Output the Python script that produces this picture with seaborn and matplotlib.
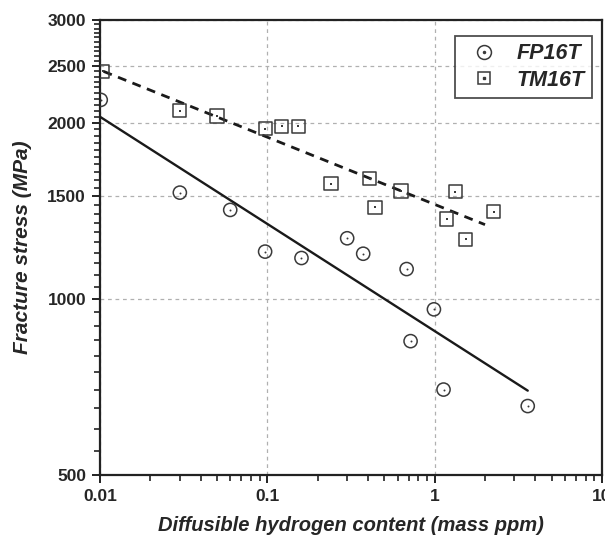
import numpy as np
import pandas as pd
import seaborn as sns
import matplotlib
matplotlib.use("Agg")
import matplotlib.pyplot as plt
from matplotlib.ticker import FixedLocator, NullFormatter, FuncFormatter
from matplotlib.lines import Line2D
from matplotlib.legend_handler import HandlerTuple

# ---- data ----
fp_x = [0.0101, 0.03, 0.06, 0.097, 0.16, 0.30, 0.374, 0.68, 0.718, 0.99, 1.13, 3.6]
fp_y = [2190, 1520, 1420, 1205, 1175, 1270, 1195, 1125, 847, 960, 700, 656]

tm_x = [0.0104, 0.03, 0.05, 0.097, 0.122, 0.153, 0.24, 0.41, 0.44, 0.63, 1.33, 1.18, 2.25, 1.53]
tm_y = [2450, 2100, 2055, 1955, 1975, 1975, 1575, 1605, 1435, 1530, 1525, 1370, 1410, 1265]

fp_fit_x = [0.01, 3.6]
fp_fit_y = [2049, 697]
tm_fit_x = [0.0105, 2.0]
tm_fit_y = [2450, 1340]

x_ticks = [0.01, 0.1, 1, 10]
x_tick_labels = ["0.01", "0.1", "1", "10"]
y_ticks = [500, 1000, 1500, 2000, 2500, 3000]
y_minor = [v for v in range(550, 3000, 50) if v not in y_ticks]

series_names = ["FP16T", "TM16T"]

sns.set_style("white")
plt.rcParams['font.family'] = ['Liberation Sans', 'DejaVu Sans']

fig = plt.figure(figsize=(6.05, 5.39), dpi=100)
ax = fig.add_axes([0.1653, 0.1187, 0.8297, 0.8443])
ax.set_xscale("log")
ax.set_yscale("log")

edge = "#3a3a3a"
fp_df = pd.DataFrame({"x": fp_x, "y": fp_y})
tm_df = pd.DataFrame({"x": tm_x, "y": tm_y})

# fit lines
sns.lineplot(x=fp_fit_x, y=fp_fit_y, ax=ax, color="#1a1a1a", lw=1.7, zorder=3)
sns.lineplot(x=tm_fit_x, y=tm_fit_y, ax=ax, color="#1a1a1a", lw=2.0, zorder=3,
             linestyle=(0, (3.2, 2.4)))

# points: open markers with center dot
sns.scatterplot(data=fp_df, x="x", y="y", ax=ax, marker="o", s=90,
                facecolor="none", edgecolor=edge, linewidth=1.1, zorder=4)
sns.scatterplot(data=fp_df, x="x", y="y", ax=ax, marker="o", s=2,
                color=edge, linewidth=0, zorder=5)
sns.scatterplot(data=tm_df, x="x", y="y", ax=ax, marker="s", s=90,
                facecolor="none", edgecolor=edge, linewidth=1.1, zorder=4)
sns.scatterplot(data=tm_df, x="x", y="y", ax=ax, marker="s", s=2,
                color=edge, linewidth=0, zorder=5)

ax.set_xlim(0.01, 10)
ax.set_ylim(500, 3000)

ax.xaxis.set_major_locator(FixedLocator(x_ticks))
ax.xaxis.set_major_formatter(FuncFormatter(lambda v, p: x_tick_labels[x_ticks.index(v)] if v in x_ticks else ""))
ax.yaxis.set_major_locator(FixedLocator(y_ticks))
ax.yaxis.set_major_formatter(FuncFormatter(lambda v, p: f"{int(round(v))}"))
ax.yaxis.set_minor_locator(FixedLocator(y_minor))
ax.yaxis.set_minor_formatter(NullFormatter())
ax.xaxis.set_minor_formatter(NullFormatter())

ax.tick_params(axis="both", which="major", direction="out", length=6, width=1.4,
               color="#222222", labelsize=12.5, pad=4, bottom=True, left=True)
ax.tick_params(axis="both", which="minor", direction="out", length=4, width=1.2,
               color="#222222", bottom=True, left=True)
for lab in ax.get_xticklabels() + ax.get_yticklabels():
    lab.set_fontweight("bold")

ax.grid(True, which="major", color="#b0b0b0", linestyle=(0, (3, 3)), linewidth=0.9)
ax.set_axisbelow(True)

for sp in ax.spines.values():
    sp.set_visible(True)
    sp.set_color("#222222")
    sp.set_linewidth(1.6)

ax.set_xlabel("Diffusible hydrogen content (mass ppm)", fontsize=14.5,
              fontweight="bold", fontstyle="italic", labelpad=9)
ax.set_ylabel("Fracture stress (MPa)", fontsize=15,
              fontweight="bold", fontstyle="italic", labelpad=11)

# legend
h1 = (Line2D([], [], marker="o", ls="none", ms=10, mfc="none", mec=edge, mew=1.1),
      Line2D([], [], marker="o", ls="none", ms=1.5, mfc=edge, mec=edge))
h2 = (Line2D([], [], marker="s", ls="none", ms=9, mfc="none", mec=edge, mew=1.1),
      Line2D([], [], marker="s", ls="none", ms=1.5, mfc=edge, mec=edge))
leg = ax.legend([h1, h2], series_names, loc="upper right",
                handler_map={tuple: HandlerTuple(ndivide=1, pad=0)},
                prop={"weight": "bold", "style": "italic", "size": 15.5},
                frameon=True, fancybox=False, edgecolor="#222222",
                borderpad=0.35, labelspacing=0.25, handletextpad=0.5,
                handlelength=2.0, bbox_to_anchor=(0.98, 0.965), borderaxespad=0)
leg.get_frame().set_linewidth(1.3)

fig.savefig("out.png", dpi=100)
